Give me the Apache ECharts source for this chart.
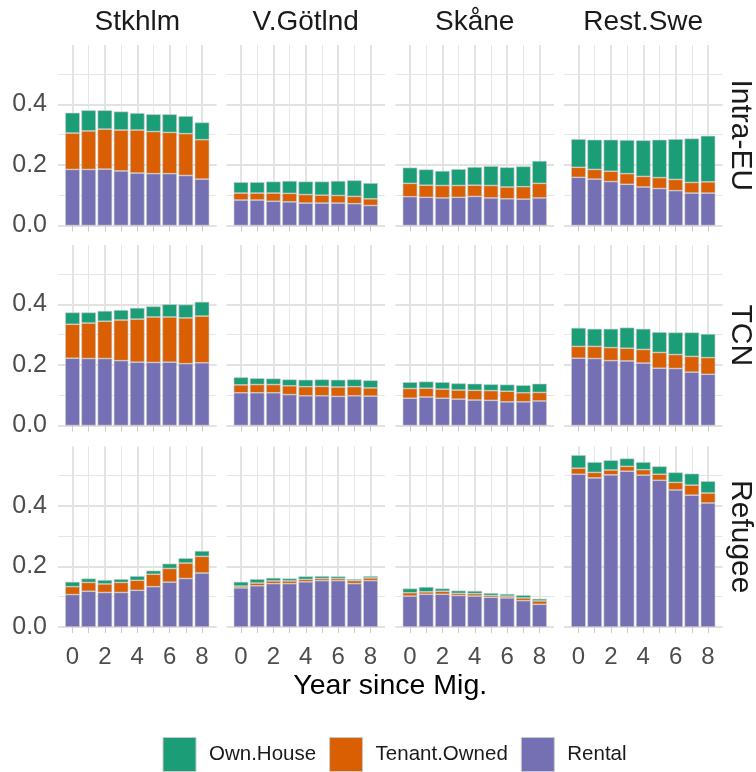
<!DOCTYPE html>
<html><head><meta charset="utf-8">
<script src="https://cdn.jsdelivr.net/npm/echarts@6/dist/echarts.min.js"></script>
<style>html,body{margin:0;padding:0;background:#fff}#c{width:756px;height:772px}</style>
</head><body><div id="c"></div>
<script>
// ---- data ----
const regions = ['Stkhlm', 'V.Götlnd', 'Skåne', 'Rest.Swe'];
const groups = ['Intra-EU', 'TCN', 'Refugee'];
const years = [0, 1, 2, 3, 4, 5, 6, 7, 8];
const xTickValues = [0, 1, 2, 3, 4, 5, 6, 7, 8];
const xLabelValues = [0, 2, 4, 6, 8];
const yMinorValues = [0, 0.1, 0.2, 0.3, 0.4, 0.5];
const yLabelValues = [0, 0.2, 0.4];
const seriesNames = ['Rental', 'Tenant.Owned', 'Own.House'];
const legendOrder = ['Own.House', 'Tenant.Owned', 'Rental'];

// values per region: [Stkhlm, V.Götlnd, Skåne, Rest.Swe]
const rentalIntraEU = [
  [0.185,0.185,0.186,0.180,0.173,0.171,0.171,0.165,0.153],
  [0.084,0.084,0.080,0.078,0.074,0.074,0.074,0.072,0.066],
  [0.095,0.093,0.091,0.093,0.096,0.091,0.088,0.087,0.091],
  [0.159,0.153,0.145,0.136,0.127,0.122,0.115,0.107,0.107]
];
const tenantIntraEU = [
  [0.120,0.127,0.132,0.135,0.142,0.139,0.136,0.138,0.130],
  [0.023,0.023,0.027,0.028,0.028,0.026,0.025,0.024,0.022],
  [0.044,0.040,0.041,0.039,0.037,0.041,0.039,0.041,0.048],
  [0.033,0.032,0.034,0.035,0.035,0.036,0.037,0.035,0.037]
];
const ownIntraEU = [
  [0.067,0.068,0.062,0.061,0.056,0.057,0.060,0.058,0.057],
  [0.036,0.036,0.038,0.041,0.043,0.045,0.048,0.053,0.052],
  [0.052,0.052,0.048,0.054,0.060,0.064,0.065,0.067,0.074],
  [0.093,0.098,0.104,0.111,0.119,0.125,0.133,0.145,0.152]
];
const rentalTCN = [
  [0.222,0.221,0.221,0.214,0.209,0.208,0.209,0.204,0.207],
  [0.108,0.108,0.108,0.102,0.098,0.098,0.096,0.098,0.097],
  [0.090,0.094,0.090,0.087,0.084,0.083,0.078,0.078,0.081],
  [0.222,0.221,0.214,0.213,0.206,0.189,0.188,0.176,0.169]
];
const tenantTCN = [
  [0.112,0.117,0.123,0.134,0.142,0.150,0.149,0.151,0.154],
  [0.026,0.027,0.027,0.029,0.030,0.031,0.031,0.030,0.027],
  [0.032,0.029,0.030,0.030,0.032,0.032,0.035,0.030,0.028],
  [0.039,0.040,0.043,0.042,0.045,0.052,0.046,0.052,0.055]
];
const ownTCN = [
  [0.039,0.035,0.034,0.033,0.037,0.035,0.042,0.044,0.047],
  [0.025,0.021,0.020,0.021,0.023,0.023,0.024,0.024,0.025],
  [0.021,0.022,0.023,0.022,0.022,0.021,0.022,0.025,0.029],
  [0.061,0.058,0.062,0.068,0.068,0.067,0.073,0.079,0.078]
];
const rentalRefugee = [
  [0.107,0.118,0.114,0.114,0.121,0.133,0.148,0.160,0.178],
  [0.129,0.136,0.143,0.143,0.149,0.153,0.153,0.143,0.153],
  [0.102,0.108,0.108,0.104,0.102,0.098,0.096,0.087,0.075],
  [0.504,0.492,0.502,0.514,0.501,0.484,0.452,0.435,0.409]
];
const tenantRefugee = [
  [0.026,0.029,0.028,0.033,0.033,0.041,0.045,0.051,0.055],
  [0.006,0.009,0.009,0.009,0.008,0.007,0.007,0.010,0.009],
  [0.011,0.008,0.010,0.007,0.008,0.006,0.006,0.009,0.011],
  [0.020,0.018,0.016,0.016,0.018,0.020,0.025,0.033,0.033]
];
const ownRefugee = [
  [0.016,0.013,0.013,0.011,0.014,0.012,0.016,0.016,0.018],
  [0.014,0.013,0.010,0.008,0.010,0.008,0.007,0.005,0.006],
  [0.014,0.016,0.009,0.009,0.009,0.008,0.007,0.009,0.007],
  [0.043,0.034,0.032,0.026,0.025,0.026,0.033,0.038,0.039]
];

// ---- layout / style ----
const FONT = '"Liberation Sans", Arial, sans-serif';
const colors = { 'Rental': '#7570B3', 'Tenant.Owned': '#D95F02', 'Own.House': '#1B9E77' };
const rowData = [
  [rentalIntraEU, tenantIntraEU, ownIntraEU],
  [rentalTCN, tenantTCN, ownTCN],
  [rentalRefugee, tenantRefugee, ownRefugee]
];
const colLeft = [58, 226.5, 395.5, 564];
const colW = 158.5;
const rowTop = [45, 245, 446.5];
const rowH = 180.5;
const xMin = -0.895, xMax = 8.895, yMin = 0, yMax = 0.5955;
const barW = colW / (xMax - xMin) * 0.9;
const gridMajor = '#e2e2e2', gridMinor = '#e6e6e6';

const grids = [], xAxes = [], yAxes = [], series = [];
for (let r = 0; r < 3; r++) {
  for (let c = 0; c < 4; c++) {
    const gi = r * 4 + c;
    grids.push({ left: colLeft[c], top: rowTop[r], width: colW, height: rowH, containLabel: false });
    xAxes.push({
      gridIndex: gi, type: 'value', position: 'bottom', min: xMin, max: xMax,
      axisLine: { show: false },
      axisTick: { show: true, customValues: xTickValues, length: 6, lineStyle: { color: '#cccccc', width: 1 } },
      axisLabel: { show: r === 2, customValues: xLabelValues, fontSize: 24, color: '#4d4d4d', fontFamily: FONT, margin: 18 },
      splitLine: { show: true, lineStyle: { color: gridMinor, width: 1 } }
    });
    xAxes.push({
      gridIndex: gi, type: 'value', position: 'top', min: xMin, max: xMax,
      axisLine: { show: false },
      axisTick: { show: false, customValues: xLabelValues },
      axisLabel: { show: false },
      splitLine: { show: true, lineStyle: { color: gridMajor, width: 1.8 } }
    });
    yAxes.push({
      gridIndex: gi, type: 'value', position: 'left', min: yMin, max: yMax,
      axisLine: { show: false },
      axisTick: { show: false, customValues: yMinorValues },
      axisLabel: { show: c === 0, customValues: yLabelValues, fontSize: 25, color: '#4d4d4d', fontFamily: FONT, margin: 11,
        formatter: v => Number(v).toFixed(1) },
      splitLine: { show: true, lineStyle: { color: gridMinor, width: 1 } }
    });
    yAxes.push({
      gridIndex: gi, type: 'value', position: 'right', min: yMin, max: yMax,
      axisLine: { show: false },
      axisTick: { show: false, customValues: yLabelValues },
      axisLabel: { show: false },
      splitLine: { show: true, lineStyle: { color: gridMajor, width: 1.8 } }
    });
    seriesNames.forEach((name, k) => {
      const vals = rowData[r][k][c];
      series.push({
        name: name, type: 'bar', stack: 'g' + gi,
        xAxisIndex: 2 * gi, yAxisIndex: 2 * gi,
        barWidth: barW,
        dimensions: [{ name: 'share', type: 'float' }, { name: 'year', type: 'float' }],
        encode: { x: 'year', y: 'share' },
        itemStyle: { color: colors[name], borderColor: '#cfcfcf', borderWidth: 0.6 },
        emphasis: { disabled: true },
        data: years.map((y, i) => [vals[i], y])
      });
    });
  }
}

const graphics = [];
regions.forEach((n, c) => graphics.push({
  type: 'text', x: colLeft[c] + colW / 2, y: 22,
  style: { text: n, fontSize: 28, fontFamily: FONT, fill: '#1a1a1a', align: 'center', verticalAlign: 'middle' }
}));
groups.forEach((n, r) => graphics.push({
  type: 'text', x: 740, y: rowTop[r] + rowH / 2, rotation: -Math.PI / 2,
  style: { text: n, fontSize: 30, fontFamily: FONT, fill: '#1a1a1a', align: 'center', verticalAlign: 'middle' }
}));
graphics.push({
  type: 'text', x: colLeft[0] + (colLeft[3] + colW - colLeft[0]) / 2, y: 686,
  style: { text: 'Year since Mig.', fontSize: 28.5, fontFamily: FONT, fill: '#000', align: 'center', verticalAlign: 'middle' }
});

const chart = echarts.init(document.getElementById('c'));
chart.setOption({
  animation: false,
  backgroundColor: '#fff',
  grid: grids, xAxis: xAxes, yAxis: yAxes, series: series,
  legend: {
    data: legendOrder, left: 162.5, top: 737, orient: 'horizontal', padding: 0,
    itemWidth: 33, itemHeight: 34, itemGap: 13, icon: 'rect',
    itemStyle: { borderColor: '#c8c8c8', borderWidth: 1 },
    textStyle: { fontSize: 20.5, color: '#1a1a1a', fontFamily: FONT, padding: [0, 0, 0, 8] },
    selectedMode: false
  },
  graphic: graphics
});
</script></body></html>
